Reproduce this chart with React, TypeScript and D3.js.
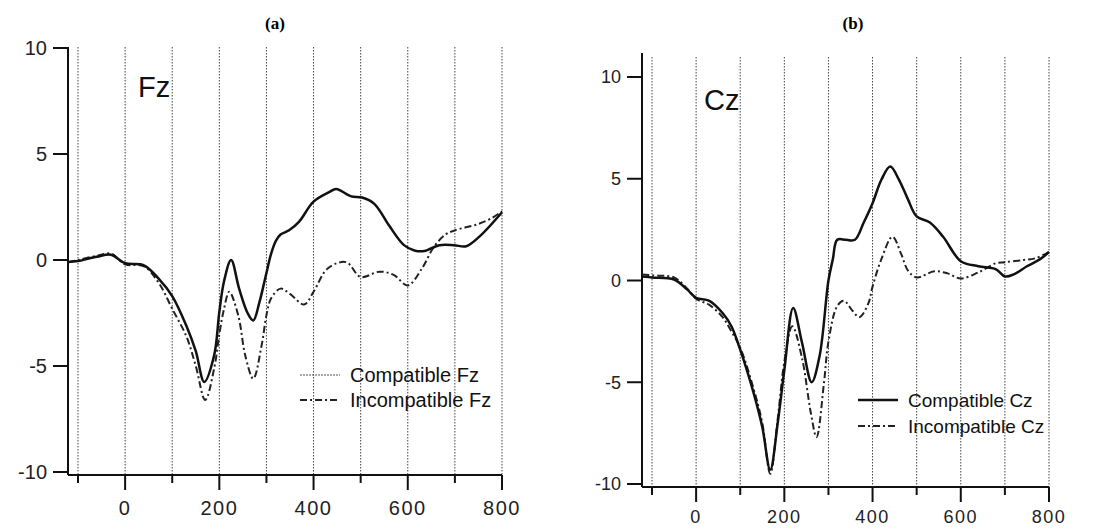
import React from "react";
import * as d3 from "d3";

// ---- data ----
const xTicksMajor = [0, 200, 400, 600, 800];
const xTicksAll = [-100, 0, 100, 200, 300, 400, 500, 600, 700, 800];
const yTicks = [-10, -5, 0, 5, 10];

const fzCompT = [-121, -100, -60, -30, 0, 40, 72, 100, 130, 150, 168, 189, 200, 210, 225, 242, 260, 272, 285, 298, 310, 320, 330, 348, 369, 400, 433, 448, 480, 503, 529, 561, 592, 614, 635, 667, 698, 724, 752, 800];
const fzCompV = [-0.1, -0.05, 0.15, 0.25, -0.15, -0.25, -0.9, -1.7, -3.1, -4.3, -5.75, -4.5, -2.45, -1.0, 0.0, -1.35, -2.5, -2.85, -2.0, -0.8, 0.3, 0.9, 1.2, 1.4, 1.8, 2.75, 3.2, 3.35, 3.0, 2.95, 2.65, 1.6, 0.7, 0.45, 0.42, 0.7, 0.7, 0.65, 1.1, 2.25];

const fzIncT = [-121, -100, -60, -30, 0, 40, 72, 100, 130, 150, 170, 190, 200, 210, 221, 240, 255, 272, 290, 300, 310, 330, 350, 380, 400, 430, 469, 500, 540, 570, 600, 630, 655, 680, 700, 750, 780, 800];
const fzIncV = [-0.1, 0, 0.2, 0.3, -0.2, -0.3, -1.1, -2.3, -3.6, -5.0, -6.6, -5.0, -3.5, -2.3, -1.5, -2.6, -4.5, -5.6, -4.0, -2.6, -1.8, -1.35, -1.6, -2.1, -1.5, -0.4, -0.1, -0.8, -0.55, -0.7, -1.2, -0.4, 0.6, 1.2, 1.4, 1.7, 2.0, 2.3];

const czCompT = [-122, -100, -50, -20, 0, 30, 60, 80, 100, 130, 150, 168, 185, 200, 220, 240, 262, 280, 300, 310, 320, 340, 360, 380, 400, 420, 440, 460, 480, 500, 530, 560, 600, 640, 680, 700, 720, 750, 780, 800];
const czCompV = [0.2, 0.15, 0.05, -0.45, -0.85, -1.0, -1.6, -2.25, -3.4, -5.5, -7.2, -9.3, -7.0, -4.4, -1.35, -3.05, -5.0, -3.7, 0, 1.05, 2.0, 2.0, 2.0, 2.85, 3.8, 4.95, 5.6, 4.95, 4.0, 3.15, 2.85, 2.15, 0.95, 0.7, 0.55, 0.2, 0.3, 0.7, 1.05, 1.4];

const czIncT = [-122, -100, -50, -20, 0, 30, 60, 80, 100, 130, 150, 168, 185, 200, 218, 240, 260, 273, 290, 300, 320, 335, 355, 370, 390, 400, 420, 445, 465, 480, 500, 540, 570, 600, 640, 680, 700, 740, 770, 800];
const czIncV = [0.3, 0.25, 0.15, -0.4, -0.9, -1.2, -1.8, -2.5, -3.3, -5.3, -7.0, -9.5, -6.8, -4.0, -2.25, -3.8, -6.5, -7.7, -5.0, -3.0, -1.25, -1.0, -1.5, -1.8, -1.15, -0.3, 1.05, 2.15, 1.3, 0.5, 0.15, 0.45, 0.35, 0.1, 0.4, 0.85, 0.9, 1.0, 1.1, 1.4];

type PanelProps = {
  title: string;
  titleX: number;
  xRange: [number, number];
  yRange: [number, number];
  axisLeft: number;
  axisTop: number;
  axisBottom: number;
  gridTop: number;
  tickFont: number;
  xLabelOffset: number;
  channel: string;
  channelX: number;
  channelY: number;
  compT: number[];
  compV: number[];
  incT: number[];
  incV: number[];
  legendX: number;
  legendY: number;
  legendFont: number;
  legendGap: number;
  legendSolidThin: boolean;
};

const DASH = "7 3 2 3";

function Panel(p: PanelProps) {
  const x = d3.scaleLinear().domain([-100, 800]).range(p.xRange);
  const y = d3.scaleLinear().domain([-10, 10]).range(p.yRange);
  const line = d3
    .line<[number, number]>()
    .x((d) => x(d[0]))
    .y((d) => y(d[1]))
    .curve(d3.curveCatmullRom.alpha(0.5));
  const comp = p.compT.map((t, i) => [t, p.compV[i]] as [number, number]);
  const inc = p.incT.map((t, i) => [t, p.incV[i]] as [number, number]);
  const font = "'Liberation Sans', Arial, sans-serif";
  return (
    <g>
      <text x={p.titleX} y={29} textAnchor="middle" fontFamily="'Liberation Serif', 'Times New Roman', serif" fontWeight="bold" fontSize={17}>
        {p.title}
      </text>
      {xTicksAll.map((t) => (
        <line key={"g" + t} x1={x(t)} x2={x(t)} y1={p.gridTop} y2={p.axisBottom} stroke="#444" strokeWidth={1} strokeDasharray="1.5 1.5" />
      ))}
      {/* y axis */}
      <line x1={p.axisLeft} x2={p.axisLeft} y1={p.axisTop} y2={p.axisBottom} stroke="#111" strokeWidth={2} />
      {yTicks.map((t) => (
        <g key={"y" + t}>
          <line x1={p.axisLeft - 15} x2={p.axisLeft} y1={y(t)} y2={y(t)} stroke="#111" strokeWidth={2} />
          <text x={p.axisLeft - 21} y={y(t)} dy="0.36em" textAnchor="end" fontFamily={font} fontSize={p.tickFont} fill="#222">
            {t}
          </text>
        </g>
      ))}
      {/* x axis */}
      <line x1={p.axisLeft} x2={x(800)} y1={p.axisBottom} y2={p.axisBottom} stroke="#111" strokeWidth={2} />
      {xTicksAll.map((t) => (
        <line key={"xt" + t} x1={x(t)} x2={x(t)} y1={p.axisBottom} y2={p.axisBottom + (xTicksMajor.includes(t) ? 15 : 8)} stroke="#111" strokeWidth={2} />
      ))}
      {xTicksMajor.map((t) => (
        <text key={"xl" + t} x={x(t)} y={p.axisBottom + p.xLabelOffset} textAnchor="middle" fontFamily={font} fontSize={p.tickFont} fill="#222" letterSpacing={1.5}>
          {t}
        </text>
      ))}
      <text x={p.channelX} y={p.channelY} fontFamily={font} fontSize={29} fill="#111">
        {p.channel}
      </text>
      <path d={line(inc) || ""} fill="none" stroke="#222" strokeWidth={2} strokeDasharray={DASH} />
      <path d={line(comp) || ""} fill="none" stroke="#111" strokeWidth={2.5} />
      {/* legend */}
      <line x1={p.legendX} x2={p.legendX + 40} y1={p.legendY} y2={p.legendY} stroke={p.legendSolidThin ? "#555" : "#111"} strokeWidth={p.legendSolidThin ? 1.2 : 2.5} strokeDasharray={p.legendSolidThin ? "2 1" : undefined} />
      <text x={p.legendX + 50} y={p.legendY} dy="0.36em" fontFamily={font} fontSize={p.legendFont} fill="#111">
        {"Compatible " + p.channel}
      </text>
      <line x1={p.legendX} x2={p.legendX + 40} y1={p.legendY + p.legendGap} y2={p.legendY + p.legendGap} stroke="#222" strokeWidth={2} strokeDasharray={DASH} />
      <text x={p.legendX + 50} y={p.legendY + p.legendGap} dy="0.36em" fontFamily={font} fontSize={p.legendFont} fill="#111">
        {"Incompatible " + p.channel}
      </text>
    </g>
  );
}

export default function App() {
  return (
    <svg width={1099} height={531} style={{ position: "absolute", left: 0, top: 0, background: "#fff" }}>
      <rect width={1099} height={531} fill="#fff" />
      <Panel
        title="(a)"
        titleX={275}
        xRange={[78, 502]}
        yRange={[472, 48]}
        axisLeft={68}
        axisTop={47}
        axisBottom={475}
        gridTop={47}
        tickFont={20}
        xLabelOffset={40}
        channel="Fz"
        channelX={138}
        channelY={97}
        compT={fzCompT}
        compV={fzCompV}
        incT={fzIncT}
        incV={fzIncV}
        legendX={300}
        legendY={375}
        legendFont={20}
        legendGap={25}
        legendSolidThin={true}
      />
      <Panel
        title="(b)"
        titleX={853}
        xRange={[652, 1049]}
        yRange={[484, 77]}
        axisLeft={642}
        axisTop={53}
        axisBottom={487}
        gridTop={57}
        tickFont={18}
        xLabelOffset={36}
        channel="Cz"
        channelX={704}
        channelY={110}
        compT={czCompT}
        compV={czCompV}
        incT={czIncT}
        incV={czIncV}
        legendX={858}
        legendY={400}
        legendFont={19}
        legendGap={26}
        legendSolidThin={false}
      />
    </svg>
  );
}
